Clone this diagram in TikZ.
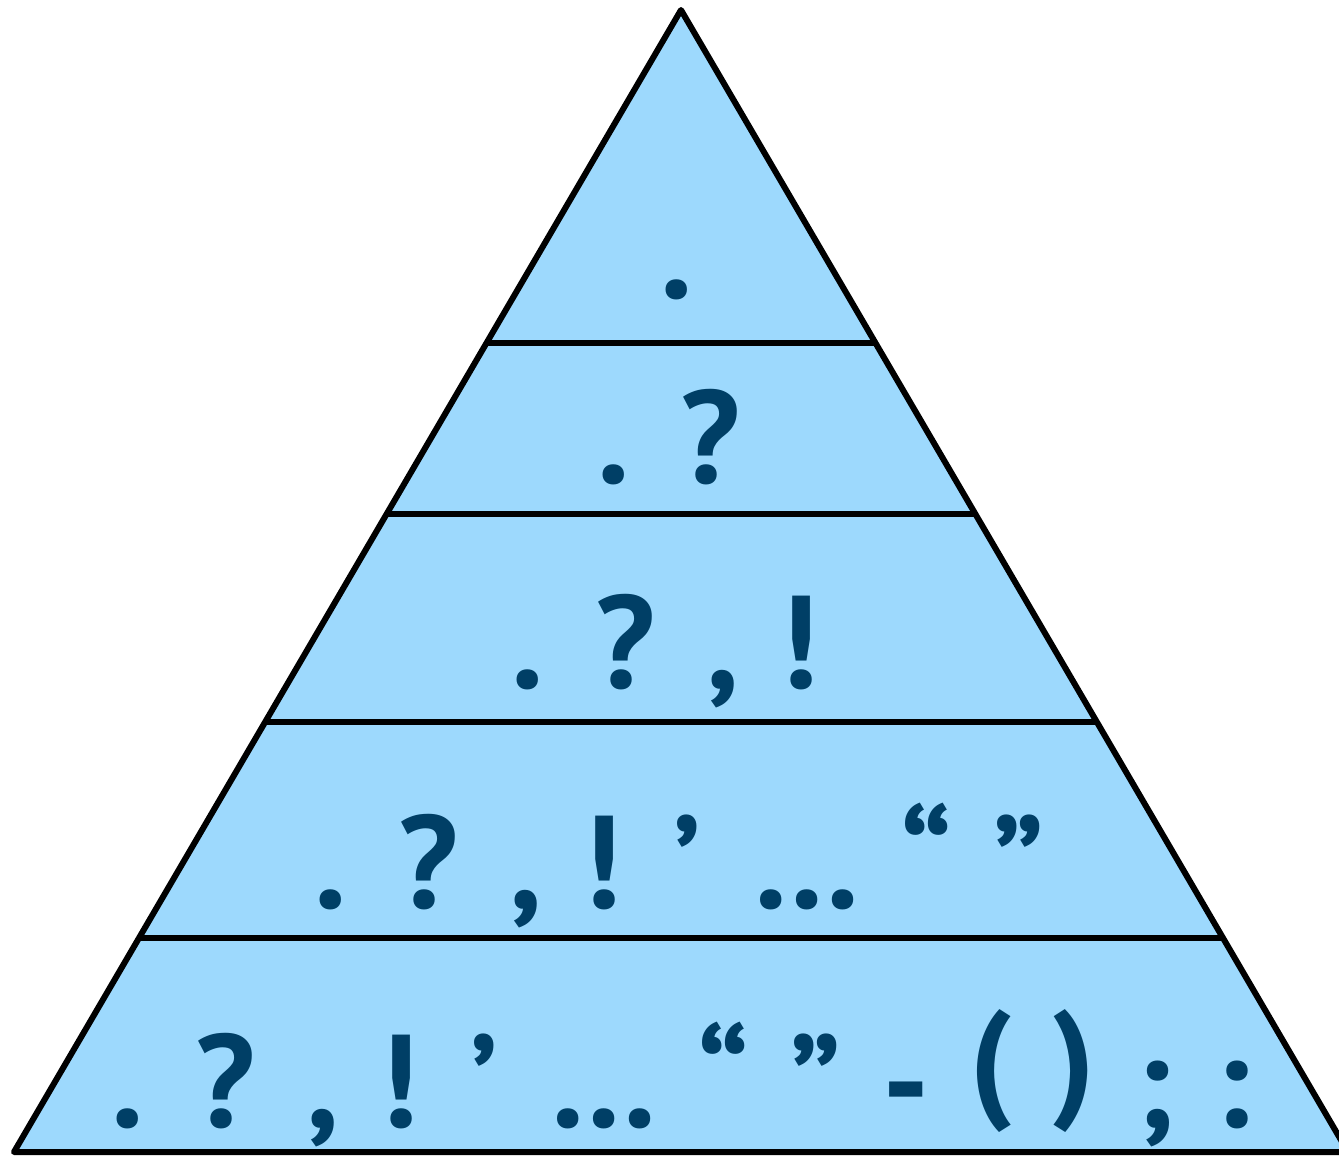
\documentclass[tikz,border=0pt]{standalone}
\usepackage{fontspec}
\setmainfont{PT Sans}
\newfontfamily\satzzeichen[WordSpace=1.2]{PT Sans}
\usetikzlibrary{calc}
\definecolor{stufe}{RGB}{157,217,253}
\definecolor{zeichen}{RGB}{0,63,102}
\newcommand{\hoch}[1]{\raisebox{.18em}{#1}}
\tikzset{
    zeile/.style={anchor=base, inner sep=0pt, text=zeichen,
        font=\satzzeichen\fontsize{132}{132}\selectfont\bfseries}
}

\begin{document}
\begin{tikzpicture}[x=1pt, y=-1pt]
\useasboundingbox (0,0) rectangle (1339,1157);

% Ecken
\coordinate (A) at (681,10);
\coordinate (B) at (14,1152);
\coordinate (C) at (1348,1152);

% Dreieck
\draw[line width=6pt, line join=round, fill=stufe] (A) -- (B) -- (C) -- cycle;

% Stufen
\foreach \t [count=\i] in {0.2916, 0.4413, 0.6235, 0.8126} {
    \coordinate (L\i) at ($(A)!\t!(B)$);
    \coordinate (R\i) at ($(A)!\t!(C)$);
    \draw[line width=6pt] (L\i) -- (R\i);
}

% Zeichen
\node[zeile] (z1) at (677,298) {.};
\node[zeile] (z2) at (669,483) {. ?};
\node[zeile] (z3) at (665,688) {. ? , !};
\node[zeile] (z4) at (680,908) {. ? , ! ’ … “ ”};
\node[zeile] (z5) at (681,1127) {. ? , ! ’ … “ ” - \hoch{(} \hoch{)} ; :};
\end{tikzpicture}
\end{document}
